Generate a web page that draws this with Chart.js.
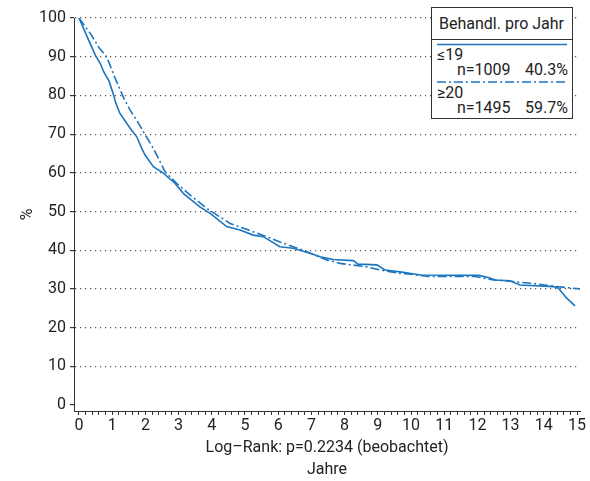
<!DOCTYPE html>
<html>
<head>
<meta charset="utf-8">
<script src="https://cdn.jsdelivr.net/npm/chart.js@4.4.0/dist/chart.umd.min.js"></script>
<style>
  html, body { margin: 0; padding: 0; background: #ffffff; }
  #wrap { position: relative; width: 590px; height: 481px; }
  #chart { position: absolute; left: 0; top: 0; }
  #legend { position: absolute; left: 0; top: 0; pointer-events: none; }
  #legend text { font-family: Roboto, "Liberation Sans", sans-serif; font-size: 16px; fill: #222; }
</style>
</head>
<body>
<div id="wrap">
  <canvas id="chart" width="590" height="481"></canvas>
  <svg id="legend" width="590" height="130" xmlns="http://www.w3.org/2000/svg"></svg>
</div>
<script>
// ---- data ----
const le19Years = [0, 0.30, 0.50, 0.65, 0.75, 0.90, 1.05, 1.10, 1.23, 1.54, 1.74, 1.89, 1.99, 2.24, 2.54, 2.89, 3.14, 3.64, 3.95, 4.45, 4.85, 5.25, 5.55, 6.05, 6.45, 6.96, 7.26, 7.66, 8.26, 8.41, 8.97, 9.22, 9.67, 10.00, 10.30, 12.05, 12.35, 12.55, 12.98, 13.28, 14.29, 14.44, 14.69, 14.94];
const le19Pct   = [100, 94.1, 90.3, 88.1, 86.0, 83.8, 79.9, 78.2, 75.4, 71.5, 69.3, 66.3, 64.6, 61.6, 59.9, 57.3, 54.7, 51.2, 49.5, 46.1, 45.2, 43.9, 43.5, 40.9, 40.5, 39.2, 38.3, 37.6, 37.3, 36.4, 36.2, 34.9, 34.4, 34.0, 33.6, 33.5, 32.9, 32.3, 32.1, 31.0, 30.6, 30.2, 27.6, 25.6];

const ge20Years = [0, 0.35, 0.60, 0.80, 0.90, 1.10, 1.36, 1.54, 1.74, 1.94, 2.24, 2.59, 2.94, 3.34, 3.85, 4.55, 5.05, 5.65, 6.15, 6.75, 7.46, 7.86, 8.66, 9.07, 9.67, 10.00, 10.52, 11.93, 12.48, 13.08, 13.68, 14.29, 15.09];
const ge20Pct   = [100, 95.9, 92.4, 90.3, 88.6, 84.2, 79.1, 76.2, 73.6, 70.6, 66.3, 60.3, 57.3, 54.3, 50.8, 46.9, 45.4, 43.5, 41.8, 40.0, 37.5, 36.6, 35.7, 34.9, 34.0, 33.8, 33.2, 33.2, 32.3, 31.9, 31.4, 30.7, 30.0];

const xTickLabels = [0, 1, 2, 3, 4, 5, 6, 7, 8, 9, 10, 11, 12, 13, 14, 15];
const yTickLabels = [0, 10, 20, 30, 40, 50, 60, 70, 80, 90, 100];

const groupNames  = ['\u226419', '\u226520'];
const groupN      = ['n=1009', 'n=1495'];
const groupShare  = ['40.3%', '59.7%'];
const legendTitle = 'Behandl. pro Jahr';
const xTitleLines = ['Log\u2013Rank: p=0.2234 (beobachtet)', 'Jahre'];
const yTitle      = '%';

// ---- styling ----
const BLUE = '#1b75bf';
const AXIS = '#333333';
const FONT = 'Roboto, "Liberation Sans", sans-serif';
const DASHDOT = [9, 3, 2, 3];

// minor tick positions (every 0.2 year / every 5 %)
const xMinor = [];
for (let i = 0; i <= xTickLabels[xTickLabels.length - 1] * 5; i++) xMinor.push(i / 5);
const yMinor = [];
for (let v = 0; v <= yTickLabels[yTickLabels.length - 1]; v += 5) yMinor.push(v);

const toPoints = (xs, ys) => xs.map((x, i) => ({ x: x, y: ys[i] }));
const isMajorX = v => xTickLabels.some(t => Math.abs(t - v) < 1e-6);
const isMajorY = v => yTickLabels.indexOf(v) >= 0;

new Chart(document.getElementById('chart').getContext('2d'), {
  type: 'line',
  data: {
    datasets: [
      { label: groupNames[0], data: toPoints(le19Years, le19Pct), borderColor: BLUE, borderWidth: 1.6,
        pointRadius: 0, fill: false, tension: 0 },
      { label: groupNames[1], data: toPoints(ge20Years, ge20Pct), borderColor: BLUE, borderWidth: 1.6,
        borderDash: DASHDOT, pointRadius: 0, fill: false, tension: 0 }
    ]
  },
  options: {
    responsive: false,
    animation: false,
    devicePixelRatio: 1,
    layout: { padding: { left: 0, right: 10, top: 18, bottom: 0 } },
    plugins: { legend: { display: false }, tooltip: { enabled: false } },
    scales: {
      x: {
        type: 'linear', min: -0.15, max: 15.09,
        afterBuildTicks: s => { s.ticks = xMinor.map(v => ({ value: v })); },
        afterFit: s => { s.height = 70; },
        ticks: {
          autoSkip: false, maxRotation: 0, padding: 1, color: '#222',
          font: { family: FONT, size: 16 },
          callback: v => isMajorX(v) ? String(Math.round(v)) : ''
        },
        grid: { drawOnChartArea: false, color: AXIS, tickColor: AXIS, tickLength: 4, lineWidth: 1 },
        border: { color: AXIS, width: 1 },
        title: { display: true, text: xTitleLines, color: '#222',
                 font: { family: FONT, size: 16, lineHeight: 1.375 }, padding: { top: 0, bottom: 0 } }
      },
      y: {
        type: 'linear', min: -1.55, max: 100,
        afterBuildTicks: s => { s.ticks = yMinor.map(v => ({ value: v })); },
        afterFit: s => { s.width = 74; },
        ticks: {
          padding: 4, color: '#222', font: { family: FONT, size: 16 },
          callback: v => isMajorY(v) ? String(v) : ''
        },
        grid: {
          color: c => (c.tick && isMajorY(c.tick.value) && c.tick.value > 0) ? '#555' : 'rgba(0,0,0,0)',
          tickColor: AXIS, tickLength: 4, lineWidth: 1.2
        },
        border: { color: AXIS, width: 1, dash: [1.2, 3.8] },
        title: { display: true, text: yTitle, color: '#222',
                 font: { family: FONT, size: 16 }, padding: { top: 18, bottom: 0 } }
      }
    }
  }
});

// ---- legend box (real SVG text) ----
(function buildLegend() {
  const svg = document.getElementById('legend');
  const NS = 'http://www.w3.org/2000/svg';
  const add = (tag, attrs, txt) => {
    const el = document.createElementNS(NS, tag);
    for (const k in attrs) el.setAttribute(k, attrs[k]);
    if (txt !== undefined) el.textContent = txt;
    svg.appendChild(el);
    return el;
  };
  const L = 431, R = 572, T = 7, B = 118;
  add('rect', { x: L + 0.5, y: T + 0.5, width: R - L, height: B - T, fill: '#fff', stroke: AXIS, 'stroke-width': 1 });
  add('text', { x: (L + R) / 2, y: 29, 'text-anchor': 'middle' }, legendTitle);
  add('line', { x1: L, x2: R + 0.5, y1: 39.5, y2: 39.5, stroke: AXIS, 'stroke-width': 1 });
  const rows = [44.5, 82];
  rows.forEach((y0, i) => {
    add('line', { x1: 437, x2: 567, y1: y0, y2: y0, stroke: BLUE, 'stroke-width': 1.6,
                  'stroke-dasharray': i === 1 ? DASHDOT.join(' ') : 'none' });
    add('text', { x: 437, y: y0 + 15.5 }, groupNames[i]);
    add('text', { x: 457, y: y0 + 30.5 }, groupN[i]);
    add('text', { x: 568, y: y0 + 30.5, 'text-anchor': 'end' }, groupShare[i]);
  });
})();
</script>
</body>
</html>
